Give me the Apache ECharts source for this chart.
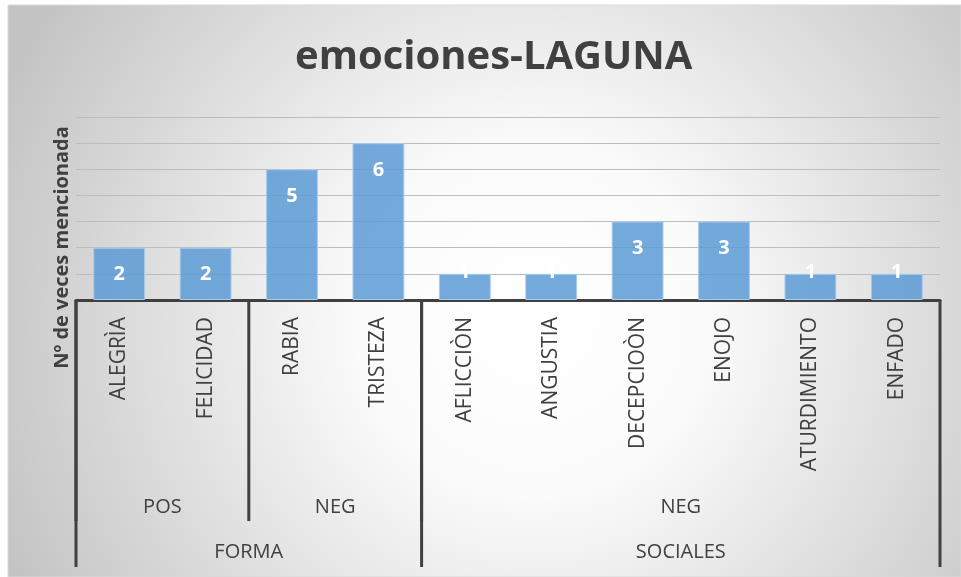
<!DOCTYPE html>
<html lang="es">

<head>
    <meta charset="UTF-8">
    <title>emociones-LAGUNA</title>
    <style>
        html, body { margin: 0; padding: 0; background: #fff; }
        #main { width: 961px; height: 577px; }
    </style>
</head>

<body>
    <div id="main"></div>
    <script src="https://cdn.jsdelivr.net/npm/echarts@6/dist/echarts.min.js"></script>
    <script>
        const categories = ['ALEGRÌA', 'FELICIDAD', 'RABIA', 'TRISTEZA', 'AFLICCIÒN', 'ANGUSTIA', 'DECEPCIOÒN', 'ENOJO', 'ATURDIMIENTO', 'ENFADO']
        const values = [2, 2, 5, 6, 1, 1, 3, 3, 1, 1]
        // grouped axis levels: start index, end index, level
        const groupNames = ['POS', 'NEG', 'NEG', 'FORMA', 'SOCIALES']
        const groupStart = [0, 2, 4, 0, 4]
        const groupEnd = [1, 3, 9, 3, 9]
        const groupLevel = [2, 2, 2, 3, 3]

        const font = 'Open Sans'
        const dark = '#404040'

        let chart = echarts.init(document.getElementById('main'))

        const barData = values.map(v => v === 1
            ? { value: v, label: { distance: -12 } }
            : v)

        const groups = groupNames.map((n, i) => [groupStart[i], groupEnd[i], groupLevel[i]])

        function renderGroup(params, api) {
            const s = api.value(0), e = api.value(1), lvl = api.value(2)
            const w = api.size([1, 0])[0]
            const x0 = api.coord([s, 0])[0] - w / 2
            const x1 = api.coord([e, 0])[0] + w / 2
            const yb = api.coord([0, 0])[1]
            const depth = lvl === 2 ? 221 : 267
            const ly = lvl === 2 ? 207 : 252
            const line = x => ({
                type: 'line',
                shape: { x1: x, y1: yb, x2: x, y2: yb + depth },
                style: { stroke: dark, lineWidth: 3 }
            })
            const children = [line(x0), {
                type: 'text',
                style: {
                    x: (x0 + x1) / 2, y: yb + ly,
                    text: groupNames[params.dataIndex],
                    align: 'center', verticalAlign: 'middle',
                    fill: dark, font: '20px "' + font + '"'
                }
            }]
            if (lvl === 3 && e === categories.length - 1) children.push(line(x1))
            return { type: 'group', children }
        }

        let option = {
            animation: false,
            graphic: [{
                type: 'rect',
                z: -10,
                shape: { x: 8, y: 5, width: 953, height: 572 },
                style: {
                    stroke: '#d9d9d9',
                    lineWidth: 1,
                    fill: {
                        type: 'radial', x: 0.55, y: 0.55, r: 1,
                        colorStops: [
                            { offset: 0, color: '#ffffff' },
                            { offset: 0.3, color: '#fbfbfb' },
                            { offset: 1, color: '#c4c4c4' }
                        ]
                    }
                }
            }],
            title: {
                text: 'emociones-LAGUNA',
                left: 290,
                top: 33,
                textStyle: { fontFamily: font, fontSize: 40, fontWeight: 'bold', color: dark }
            },
            grid: { left: 76, right: 21, top: 117, bottom: 277 },
            xAxis: {
                type: 'category',
                data: categories,
                axisLine: { lineStyle: { color: dark, width: 3 } },
                axisTick: { show: false },
                axisLabel: {
                    interval: 0, rotate: 90, margin: 17,
                    color: dark, fontFamily: font, fontSize: 21
                }
            },
            yAxis: {
                type: 'value',
                min: 0, max: 7, interval: 1,
                name: 'Nº de veces mencionada',
                nameLocation: 'middle',
                nameGap: 4,
                nameRotate: 90,
                nameTextStyle: {
                    fontFamily: font, fontSize: 20, fontWeight: 'bold', color: dark,
                    padding: [0, 78, 0, 0]
                },
                axisLabel: { show: false },
                axisLine: { show: false },
                axisTick: { show: false },
                splitLine: { lineStyle: { color: '#bdbdbd', width: 1 } }
            },
            series: [{
                type: 'bar',
                data: barData,
                barWidth: '60%',
                itemStyle: { color: 'rgba(91,155,213,0.85)', borderColor: '#a9cbea', borderWidth: 1 },
                label: {
                    show: true, position: 'insideTop', distance: 17,
                    color: '#fff', fontFamily: font, fontSize: 20, fontWeight: 'bold'
                }
            }, {
                type: 'custom',
                data: groups,
                encode: { x: [0, 1] },
                clip: false,
                silent: true,
                renderItem: renderGroup
            }]
        }
        chart.setOption(option)
    </script>
</body>

</html>
